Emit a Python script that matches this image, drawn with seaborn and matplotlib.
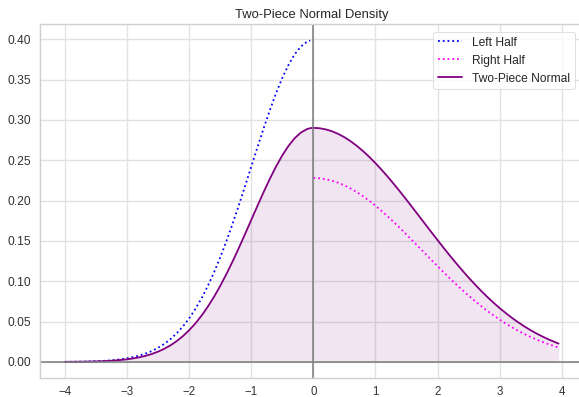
import matplotlib
matplotlib.use("Agg")
import matplotlib.pyplot as plt
import seaborn as sns
import pandas as pd

# x positions
x_left = [-4.0, -3.9, -3.8, -3.7, -3.6, -3.5, -3.4, -3.3, -3.2, -3.1,
          -3.0, -2.9, -2.8, -2.7, -2.6, -2.5, -2.4, -2.3, -2.2, -2.1,
          -2.0, -1.9, -1.8, -1.7, -1.6, -1.5, -1.4, -1.3, -1.2, -1.1,
          -1.0, -0.9, -0.8, -0.7, -0.6, -0.5, -0.4, -0.3, -0.2, -0.1, -0.05]
x_right = [0.0, 0.1, 0.2, 0.3, 0.4, 0.5, 0.6, 0.7, 0.8, 0.9,
           1.0, 1.1, 1.2, 1.3, 1.4, 1.5, 1.6, 1.7, 1.8, 1.9,
           2.0, 2.1, 2.2, 2.3, 2.4, 2.5, 2.6, 2.7, 2.8, 2.9,
           3.0, 3.1, 3.2, 3.3, 3.4, 3.5, 3.6, 3.7, 3.8, 3.9, 3.95]

left_half = [0.00013, 0.00020, 0.00029, 0.00042, 0.00061, 0.00087, 0.00123, 0.00172, 0.00238, 0.00327,
             0.00443, 0.00595, 0.00792, 0.01042, 0.01358, 0.01753, 0.02239, 0.02833, 0.03547, 0.04398,
             0.05399, 0.06562, 0.07895, 0.09405, 0.11092, 0.12952, 0.14973, 0.17137, 0.19419, 0.21785,
             0.24197, 0.26609, 0.28969, 0.31225, 0.33322, 0.35207, 0.36827, 0.38139, 0.39104, 0.39695, 0.39844]
right_half = [0.22797, 0.22760, 0.22648, 0.22464, 0.22209, 0.21885, 0.21495, 0.21044, 0.20535, 0.19973,
              0.19363, 0.18710, 0.18020, 0.17300, 0.16554, 0.15788, 0.15009, 0.14222, 0.13432, 0.12645,
              0.11865, 0.11096, 0.10344, 0.09611, 0.08901, 0.08217, 0.07561, 0.06934, 0.06338, 0.05775,
              0.05245, 0.04748, 0.04284, 0.03852, 0.03453, 0.03085, 0.02748, 0.02439, 0.02158, 0.01903, 0.01785]
two_piece_left = [0.00010, 0.00014, 0.00021, 0.00031, 0.00045, 0.00063, 0.00090, 0.00125, 0.00173, 0.00238,
                  0.00322, 0.00433, 0.00576, 0.00758, 0.00988, 0.01275, 0.01629, 0.02060, 0.02580, 0.03199,
                  0.03927, 0.04772, 0.05742, 0.06840, 0.08067, 0.09420, 0.10889, 0.12463, 0.14123, 0.15844,
                  0.17598, 0.19352, 0.21069, 0.22709, 0.24235, 0.25605, 0.26783, 0.27737, 0.28439, 0.28869, 0.28978]
two_piece_right = [0.29014, 0.28967, 0.28825, 0.28591, 0.28266, 0.27854, 0.27357, 0.26783, 0.26135, 0.25420,
                   0.24644, 0.23813, 0.22935, 0.22018, 0.21069, 0.20094, 0.19102, 0.18101, 0.17095, 0.16094,
                   0.15101, 0.14122, 0.13165, 0.12232, 0.11329, 0.10458, 0.09623, 0.08825, 0.08067, 0.07350,
                   0.06675, 0.06043, 0.05452, 0.04903, 0.04395, 0.03926, 0.03497, 0.03104, 0.02747, 0.02422, 0.02272]

title = "Two-Piece Normal Density"
labels = ["Left Half", "Right Half", "Two-Piece Normal"]
y_ticks = [0.0, 0.05, 0.10, 0.15, 0.20, 0.25, 0.30, 0.35, 0.40]
x_ticks = [-4, -3, -2, -1, 0, 1, 2, 3, 4]

sns.set_theme(style="whitegrid", rc={"grid.color": "#e2e2e2", "grid.linewidth": 1.4,
                                     "axes.edgecolor": "#d0d0d0", "axes.linewidth": 1.4})
plt.rcParams['font.family'] = ['Liberation Sans', 'DejaVu Sans']

dpi = 72
fig = plt.figure(figsize=(579 / dpi, 397 / dpi), dpi=dpi)
ax = fig.add_axes([40.3 / 579, 19 / 397, 543 / 579, 354 / 397])

x_all = x_left + x_right
y_all = two_piece_left + two_piece_right
df_tp = pd.DataFrame({"x": x_all, "y": y_all})

sns.lineplot(x=x_left, y=left_half, ax=ax, color="blue", linestyle=":", linewidth=1.8,
             label=labels[0], sort=False)
sns.lineplot(x=x_right, y=right_half, ax=ax, color="magenta", linestyle=":", linewidth=1.8,
             label=labels[1], sort=False)
sns.lineplot(data=df_tp, x="x", y="y", ax=ax, color="purple", linewidth=1.8,
             label=labels[2], sort=False)
ax.fill_between(x_all, y_all, color="purple", alpha=0.1, linewidth=0)

ax.axhline(0, color="gray", linewidth=1.6)
ax.axvline(0, color="gray", linewidth=1.6)

ax.set_title(title, fontsize=13)
ax.set_xlabel("")
ax.set_ylabel("")
ax.set_yticks(y_ticks)
ax.set_yticklabels([f"{v:.2f}" for v in y_ticks])
ax.set_xticks(x_ticks)
ax.set_xlim(-4.3975, 4.3475)
ax.set_ylim(-0.01995, 0.4189)
ax.tick_params(axis="y", labelsize=12, colors="#333333")
ax.tick_params(axis="x", labelsize=11.5, colors="#333333", pad=2)
leg = ax.legend(loc="upper right", fontsize=12, bbox_to_anchor=(0.995, 0.995))
leg.get_frame().set_edgecolor("#d8d8d8")

fig.savefig("out.png", dpi=dpi)
